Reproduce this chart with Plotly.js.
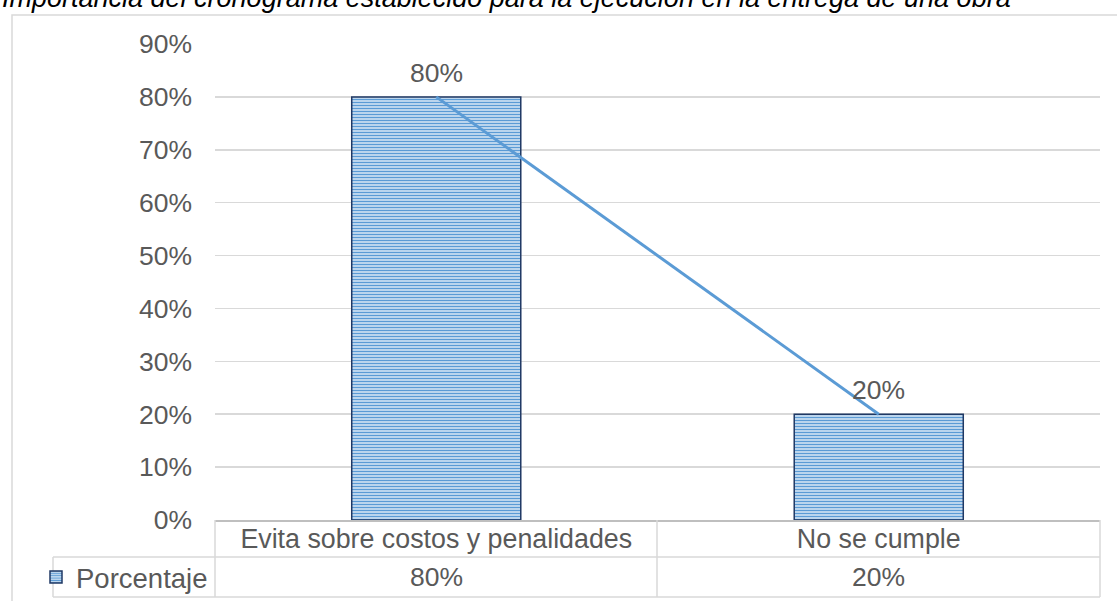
<!DOCTYPE html>
<html>
<head>
<meta charset="utf-8">
<script src="https://cdn.plot.ly/plotly-3.0.1.min.js"></script>
<style>html,body{margin:0;padding:0;background:#fff;overflow:hidden}#chart{width:1117px;height:601px}</style>
</head>
<body>
<div id="chart"></div>
<script>
const chartTitle = 'Importancia del cronograma establecido para la ejecución en la entrega de una obra';
const categories = ['Evita sobre costos y penalidades', 'No se cumple'];
const values = [0.8, 0.2];
const seriesName = 'Porcentaje';
const yTickVals = [0, 0.1, 0.2, 0.3, 0.4, 0.5, 0.6, 0.7, 0.8, 0.9];

const FONT = 'Liberation Sans, Arial, sans-serif';
const GREY = '#595959';
const LINEC = '#d9d9d9';
const fmt = v => Math.round(v * 100) + '%';

const barTrace = {
  type: 'bar',
  name: seriesName,
  x: categories,
  y: values,
  width: 0.382,
  marker: {
    color: '#cfe1f3',
    line: {color: '#1f3864', width: 1.5},
    pattern: {shape: '-', fgcolor: '#5b9bd5', bgcolor: '#dbe8f6', size: 3, solidity: 0.5}
  },
  hoverinfo: 'skip',
  showlegend: true
};
const lineTrace = {
  type: 'scatter',
  mode: 'lines',
  x: categories,
  y: values,
  line: {color: '#5b9bd5', width: 3},
  hoverinfo: 'skip',
  showlegend: false
};

const annotations = [];
annotations.push({
  text: '<i>' + chartTitle + '</i>',
  xref: 'paper', yref: 'paper',
  x: -0.2429, y: 1.061, xanchor: 'left', yanchor: 'bottom',
  showarrow: false,
  font: {family: FONT, size: 27, color: '#000000'}
});
categories.forEach((c, i) => {
  annotations.push({
    text: fmt(values[i]), x: c, y: values[i], xref: 'x', yref: 'y',
    yanchor: 'bottom', yshift: 7, showarrow: false,
    font: {family: FONT, size: 26.5, color: GREY}
  });
  annotations.push({
    text: fmt(values[i]), x: c, y: -0.1197, xref: 'x', yref: 'paper',
    yanchor: 'middle', showarrow: false,
    font: {family: FONT, size: 26.5, color: GREY}
  });
});

const px = p => (p - 215) / 885;
const py = p => (520 - p) / 476;
const line = (x0, y0, x1, y1) => ({type: 'line', xref: 'paper', yref: 'paper',
  x0: px(x0), y0: py(y0), x1: px(x1), y1: py(y1), line: {color: LINEC, width: 1.5}, layer: 'above'});
const shapes = [
  {type: 'rect', xref: 'paper', yref: 'paper', x0: px(12), y0: py(15), x1: px(1130), y1: py(620),
   line: {color: LINEC, width: 1.5}, layer: 'below'},
  line(53, 557, 1100, 557),
  line(53, 597, 1100, 597),
  line(53, 557, 53, 597),
  line(215, 520, 215, 597),
  line(657, 520, 657, 597),
  line(1100, 520, 1100, 597)
];

const layout = {
  width: 1117, height: 601,
  margin: {l: 215, r: 17, t: 44, b: 81, pad: 0},
  paper_bgcolor: '#ffffff', plot_bgcolor: '#ffffff',
  font: {family: FONT, size: 26.5, color: GREY},
  showlegend: true,
  legend: {xref: 'container', yref: 'container', x: 36 / 1117, y: (601 - 577) / 601,
    xanchor: 'left', yanchor: 'middle', bgcolor: 'rgba(0,0,0,0)',
    font: {family: FONT, size: 27.5, color: GREY}, itemwidth: 30},
  xaxis: {
    type: 'category', showgrid: false, zeroline: false, automargin: false,
    showline: true, linecolor: '#bfbfbf', linewidth: 1.5,
    ticks: '', ticklabelstandoff: -6,
    tickfont: {family: FONT, size: 26.8, color: GREY},
    fixedrange: true
  },
  yaxis: {
    range: [0, 0.9], tickvals: yTickVals, ticktext: yTickVals.map(fmt), automargin: false,
    showgrid: true, gridcolor: LINEC, gridwidth: 1.5,
    zeroline: false, showline: false, ticks: '', ticklabelstandoff: 22,
    tickfont: {family: FONT, size: 26.5, color: GREY},
    fixedrange: true
  },
  bargap: 0.6,
  annotations: annotations,
  shapes: shapes
};

Plotly.newPlot('chart', [barTrace, lineTrace], layout, {displayModeBar: false, staticPlot: true});
</script>
</body>
</html>
